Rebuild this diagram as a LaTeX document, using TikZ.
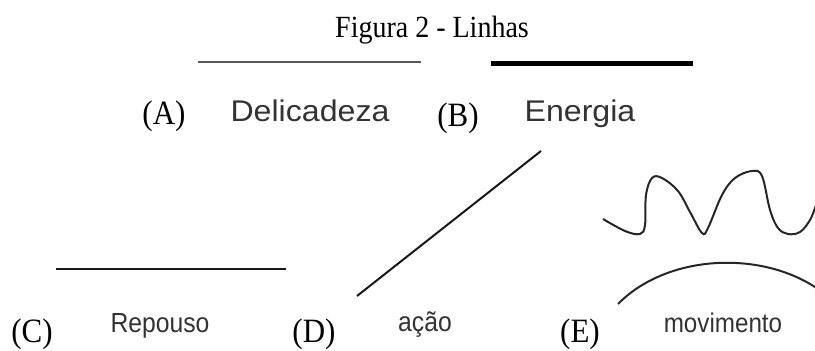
\documentclass[tikz,border=0pt]{standalone}
\usepackage{fontspec}
\setmainfont{Liberation Serif}
\newfontfamily\arialfont{Liberation Sans}
\tikzset{tag/.style={anchor=base, inner sep=0pt, yscale=1.1, font=\fontsize{31}{31}\selectfont},
  word/.style={anchor=base, inner sep=0pt, xscale=1.03, yscale=1.15, text=black!80, font=\arialfont\fontsize{24}{24}\selectfont},
  bigword/.style={word, xscale=1.2, font=\arialfont\fontsize{26}{26}\selectfont},
  stroke/.style={line width=2.5pt, line cap=butt}}

\begin{document}
\begin{tikzpicture}[x=1pt, y=-1pt]
  \useasboundingbox (0,0) rectangle (815,351);
  \node[anchor=base, inner sep=0pt, yscale=1.1, font=\fontsize{28}{28}\selectfont] (title) at (432,37) {Figura 2 - Linhas};
  % top row
  \draw[stroke, black!65] (198,62) coordinate (a1) -- (421,62) coordinate (a2);
  \draw[stroke, line width=5pt] (491,63) coordinate (b1) -- (693,63) coordinate (b2);
  \node[tag] (tagA) at (164,124) {(A)};
  \node[bigword] (delic) at (310,121) {Delicadeza};
  \node[tag] (tagB) at (458,126) {(B)};
  \node[bigword] (energ) at (580,121) {Energia};
  % bottom row
  \draw[stroke, black!90] (56,269) coordinate (c1) -- (286,269) coordinate (c2);
  \draw[line width=2pt, black!90] (357,296) coordinate (d1) -- (541,151) coordinate (d2);
  \draw[line width=2pt, black!85] plot[smooth, tension=0.6] coordinates {(603,219) (625,231) (640,234) (645,225) (646,195)
    (652,178) (662,178) (678,191) (690,212) (702,233) (708,228) (722,195) (735,178) (752,171) (762,176)
    (770,210) (778,228) (788,234) (800,232) (810,220) (816,205)};
  \draw[line width=2pt, black!85] (618,304) coordinate (e1) .. controls (672,249) and (782,249) .. (836,304) coordinate (e2);
  \node[tag] (tagC) at (32,342) {(C)};
  \node[word] (repou) at (160,332) {Repouso};
  \node[tag] (tagD) at (314,342) {(D)};
  \node[word] (acao) at (425,331) {ação};
  \node[tag] (tagE) at (580,342) {(E)};
  \node[word, xscale=1, font=\arialfont\fontsize{23.5}{23.5}\selectfont] (movim) at (723,332) {movimento};
\end{tikzpicture}
\end{document}
